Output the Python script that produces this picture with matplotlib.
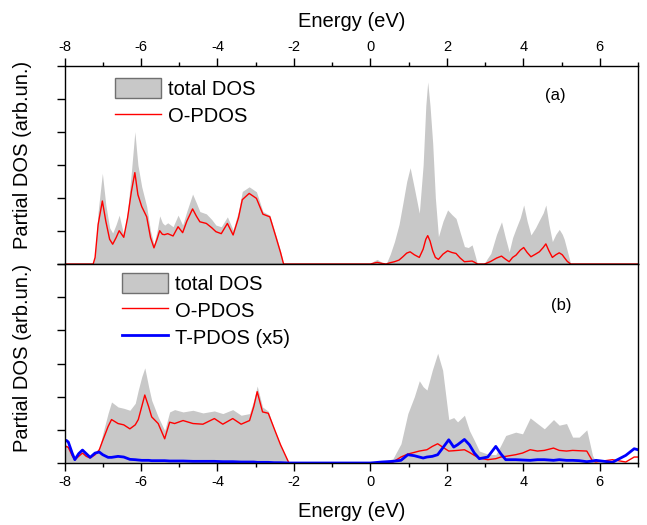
import matplotlib
matplotlib.use("Agg")
import matplotlib.pyplot as plt
from matplotlib.patches import Patch
from matplotlib.lines import Line2D
from matplotlib.ticker import MultipleLocator

plt.rcParams["font.family"] = ["Liberation Sans", "DejaVu Sans"]
plt.rcParams["axes.unicode_minus"] = False

# ---- panel (a): energy grid (eV), total DOS and O-PDOS (arb. units)
e_a = [-8.0, -7.25, -7.20, -7.12, -7.01, -6.92, -6.82, -6.74, -6.65, -6.57,
       -6.45, -6.35, -6.25, -6.16, -6.08, -5.98, -5.85, -5.75, -5.66, -5.58,
       -5.51, -5.44, -5.38, -5.30, -5.16, -5.03, -4.91, -4.80, -4.65, -4.55,
       -4.46, -4.29, -4.15, -4.04, -3.90, -3.74, -3.59, -3.45, -3.35, -3.17,
       -2.98, -2.81, -2.63, -2.46, -2.35, -2.27,
       0.00, 0.10, 0.18, 0.30, 0.41, 0.52, 0.63, 0.75, 0.85, 0.95,
       1.04, 1.15, 1.28, 1.38, 1.45, 1.50, 1.56, 1.63, 1.70, 1.78,
       1.90, 2.02, 2.13, 2.24, 2.35, 2.46, 2.56, 2.66, 2.73, 2.80,
       2.98, 3.05, 3.15, 3.30, 3.43, 3.53, 3.63, 3.72, 3.81, 3.92,
       4.01, 4.10, 4.20, 4.32, 4.42, 4.52, 4.59, 4.67, 4.76, 4.85,
       4.94, 5.02, 5.07, 5.15, 5.24, 7.0]
dos_a = [0, 0, 0.3, 1.6, 2.75, 1.8, 1.1, 0.94, 1.2, 1.48,
         0.88, 1.6, 2.8, 4.01, 3.0, 2.34, 1.74, 1.0, 0.6, 1.0,
         1.46, 1.25, 1.18, 1.25, 1.13, 1.48, 1.18, 1.6, 2.12, 1.85,
         1.59, 1.52, 1.35, 1.18, 1.13, 1.43, 1.03, 1.6, 2.2, 2.34,
         2.19, 1.59, 1.48, 0.83, 0.4, 0,
         0, 0.1, 0.14, 0.05, 0, 0.3, 0.68, 1.2, 1.84, 2.5,
         2.92, 2.3, 1.54, 3.0, 4.8, 5.52, 4.8, 3.66, 2.0, 0.83,
         1.3, 1.64, 1.5, 1.38, 0.95, 0.53, 0.5, 0.58, 0.3, 0,
         0, 0.15, 0.32, 0.9, 1.28, 0.8, 0.37, 0.8, 1.08, 1.4,
         1.79, 1.3, 0.88, 1.1, 1.33, 1.55, 1.79, 1.2, 0.68, 0.9,
         1.05, 0.9, 0.75, 0.4, 0, 0]
opdos_a = [0, 0, 0.2, 1.2, 1.91, 1.3, 0.75, 0.6, 0.8, 1.01,
           0.81, 1.4, 2.2, 2.77, 2.1, 1.74, 1.43, 0.8, 0.49, 0.75,
           1.01, 0.9, 0.89, 0.92, 0.85, 1.13, 0.95, 1.3, 1.67, 1.45,
           1.28, 1.23, 1.1, 0.98, 0.92, 1.23, 0.88, 1.4, 1.95, 2.14,
           1.99, 1.51, 1.43, 0.78, 0.35, 0,
           0, 0.03, 0.05, 0.02, 0, 0.04, 0.07, 0.12, 0.22, 0.33,
           0.37, 0.28, 0.2, 0.45, 0.75, 0.86, 0.7, 0.4, 0.2, 0.14,
           0.3, 0.4, 0.35, 0.32, 0.18, 0.07, 0.08, 0.09, 0.05, 0,
           0, 0.03, 0.08, 0.18, 0.24, 0.15, 0.07, 0.2, 0.27, 0.42,
           0.5, 0.35, 0.22, 0.3, 0.37, 0.5, 0.61, 0.4, 0.2, 0.28,
           0.34, 0.28, 0.2, 0.08, 0, 0]

# ---- panel (b): total DOS, O-PDOS and T-PDOS (x5)
e_b = [-8.00, -7.95, -7.90, -7.80, -7.73, -7.63, -7.53, -7.43, -7.33, -7.20,
       -7.09, -7.00, -6.86, -6.77, -6.60, -6.45, -6.29, -6.15, -6.07, -5.98,
       -5.90, -5.80, -5.72, -5.55, -5.38, -5.25, -5.12, -4.90, -4.64, -4.38,
       -4.08, -3.86, -3.60, -3.38, -3.16, -3.05, -2.96, -2.82, -2.67, -2.52,
       -2.35, -2.13,
       0.00, 0.30, 0.59, 0.80, 0.98, 1.15, 1.28, 1.38, 1.48, 1.62,
       1.76, 1.89, 2.05, 2.18, 2.28, 2.46, 2.59, 2.72, 2.85, 3.07,
       3.28, 3.41, 3.54, 3.80, 3.98, 4.18, 4.37, 4.55, 4.79, 4.94,
       5.13, 5.29, 5.46, 5.66, 5.81, 5.90, 6.33, 6.68, 6.90, 7.0]
dos_b = [0.5, 0.55, 0.5, 0.25, 0.1, 0.22, 0.32, 0.22, 0.15, 0.3,
         0.45, 0.88, 1.5, 1.84, 1.69, 1.65, 1.59, 1.8, 2.2, 2.6,
         2.87, 2.3, 1.89, 1.39, 0.98, 1.54, 1.61, 1.54, 1.59, 1.51,
         1.57, 1.49, 1.61, 1.44, 1.49, 1.89, 2.32, 1.69, 1.56, 1.05,
         0.55, 0,
         0, 0.03, 0.13, 0.58, 1.49, 2.0, 2.48, 2.3, 2.2, 2.8,
         3.31, 2.8, 1.31, 1.37, 1.24, 1.44, 0.98, 0.68, 0.36, 0.27,
         0.25, 0.53, 0.83, 0.93, 0.88, 1.36, 1.19, 1.03, 1.31, 1.14,
         1.19, 0.78, 0.78, 1.0, 0.23, 0.03, 0.03, 0.03, 0.03, 0.03]
opdos_b = [0.45, 0.5, 0.47, 0.22, 0.1, 0.2, 0.3, 0.2, 0.15, 0.25,
           0.4, 0.68, 1.1, 1.31, 1.19, 1.15, 1.03, 1.15, 1.31, 1.7,
           2.05, 1.7, 1.39, 1.19, 0.73, 1.23, 1.19, 1.28, 1.19, 1.17,
           1.34, 1.17, 1.34, 1.17, 1.28, 1.7, 2.15, 1.54, 1.5, 1.05,
           0.55, 0,
           0, 0.01, 0.03, 0.18, 0.27, 0.32, 0.36, 0.38, 0.4, 0.5,
           0.58, 0.48, 0.36, 0.37, 0.38, 0.4, 0.32, 0.23, 0.15, 0.1,
           0.13, 0.18, 0.2, 0.25, 0.3, 0.4, 0.36, 0.38, 0.45, 0.38,
           0.36, 0.38, 0.37, 0.36, 0.06, 0.03, 0.1, 0.03, 0.18, 0.18]
tpdos_b = [0.68, 0.68, 0.63, 0.3, 0.1, 0.28, 0.39, 0.28, 0.17, 0.3,
           0.33, 0.25, 0.17, 0.17, 0.2, 0.18, 0.11, 0.1, 0.09, 0.08,
           0.08, 0.08, 0.07, 0.07, 0.07, 0.06, 0.06, 0.06, 0.05, 0.05,
           0.05, 0.04, 0.04, 0.03, 0.03, 0.03, 0.02, 0.02, 0.02, 0.01,
           0.01, 0.0,
           0.0, 0.03, 0.05, 0.08, 0.25, 0.22, 0.18, 0.15, 0.18, 0.2,
           0.25, 0.45, 0.7, 0.48, 0.55, 0.71, 0.55, 0.3, 0.13, 0.18,
           0.5, 0.28, 0.1, 0.1, 0.09, 0.08, 0.1, 0.1, 0.08, 0.1,
           0.08, 0.08, 0.07, 0.04, 0.06, 0.08, 0.02, 0.23, 0.43, 0.4]

GREY = "#c8c8c8"
RED = "#ff0000"
BLUE = "#0000ff"
FS = 14.5

fig = plt.figure(figsize=(6.47, 5.25), dpi=100)
ax_a = fig.add_axes([0.0997, 0.4971, 0.8864, 0.3771])
ax_b = fig.add_axes([0.0997, 0.1181, 0.8864, 0.3790])

for ax in (ax_a, ax_b):
    ax.set_xlim(-8, 7)
    ax.set_ylim(0, 6)
    ax.xaxis.set_major_locator(MultipleLocator(2))
    ax.xaxis.set_minor_locator(MultipleLocator(1))
    ax.yaxis.set_major_locator(MultipleLocator(1))
    ax.set_yticklabels([])
    ax.tick_params(axis="y", which="major", direction="out", length=6,
                   width=1, right=False)
    ax.tick_params(axis="x", which="major", direction="out", length=6, width=1,
                   labelsize=10.5, pad=3)
    ax.tick_params(axis="x", which="minor", direction="out", length=3, width=1)
    for sp in ax.spines.values():
        sp.set_linewidth(1)
    ax.set_ylabel("Partial DOS (arb.un.)", fontsize=FS)

# panel (a)
ax_a.fill_between(e_a, 0, dos_a, color=GREY, lw=0)
ax_a.plot(e_a, opdos_a, color=RED, lw=1)
ax_a.xaxis.tick_top()
ax_a.xaxis.set_label_position("top")
ax_a.tick_params(axis="x", which="both", bottom=False, top=True)
ax_a.set_xlabel("Energy (eV)", fontsize=FS, labelpad=9)
ax_a.yaxis.set_label_coords(-0.057, 0.55)
ax_a.text(0.855, 0.853, "(a)", transform=ax_a.transAxes, fontsize=12,
          ha="center", va="center")
h_a = [Patch(facecolor=GREY, edgecolor="#707070", lw=1),
       Line2D([], [], color=RED, lw=1)]
ax_a.legend(h_a, ["total DOS", "O-PDOS"], loc="upper left",
            bbox_to_anchor=(115 / 647, 1 - 78 / 525),
            bbox_transform=fig.transFigure, frameon=False, fontsize=FS,
            borderpad=0, borderaxespad=0, handlelength=2.3,
            handleheight=1.15, handletextpad=0.35, labelspacing=0.32)

# panel (b)
ax_b.fill_between(e_b, 0, dos_b, color=GREY, lw=0)
ax_b.plot(e_b, opdos_b, color=RED, lw=1)
ax_b.plot(e_b, tpdos_b, color=BLUE, lw=2)
ax_b.tick_params(axis="x", which="both", top=False, bottom=True)
ax_b.set_xlabel("Energy (eV)", fontsize=FS, labelpad=9)
ax_b.yaxis.set_label_coords(-0.057, 0.53)
ax_b.text(0.867, 0.794, "(b)", transform=ax_b.transAxes, fontsize=12,
          ha="center", va="center")
h_b = [Patch(facecolor=GREY, edgecolor="#707070", lw=1),
       Line2D([], [], color=RED, lw=1),
       Line2D([], [], color=BLUE, lw=2)]
ax_b.legend(h_b, ["total DOS", "O-PDOS", "T-PDOS (x5)"], loc="upper left",
            bbox_to_anchor=(122 / 647, 1 - 273 / 525),
            bbox_transform=fig.transFigure, frameon=False, fontsize=FS,
            borderpad=0, borderaxespad=0, handlelength=2.3,
            handleheight=1.15, handletextpad=0.35, labelspacing=0.3)

fig.savefig("out.png", dpi=100)
